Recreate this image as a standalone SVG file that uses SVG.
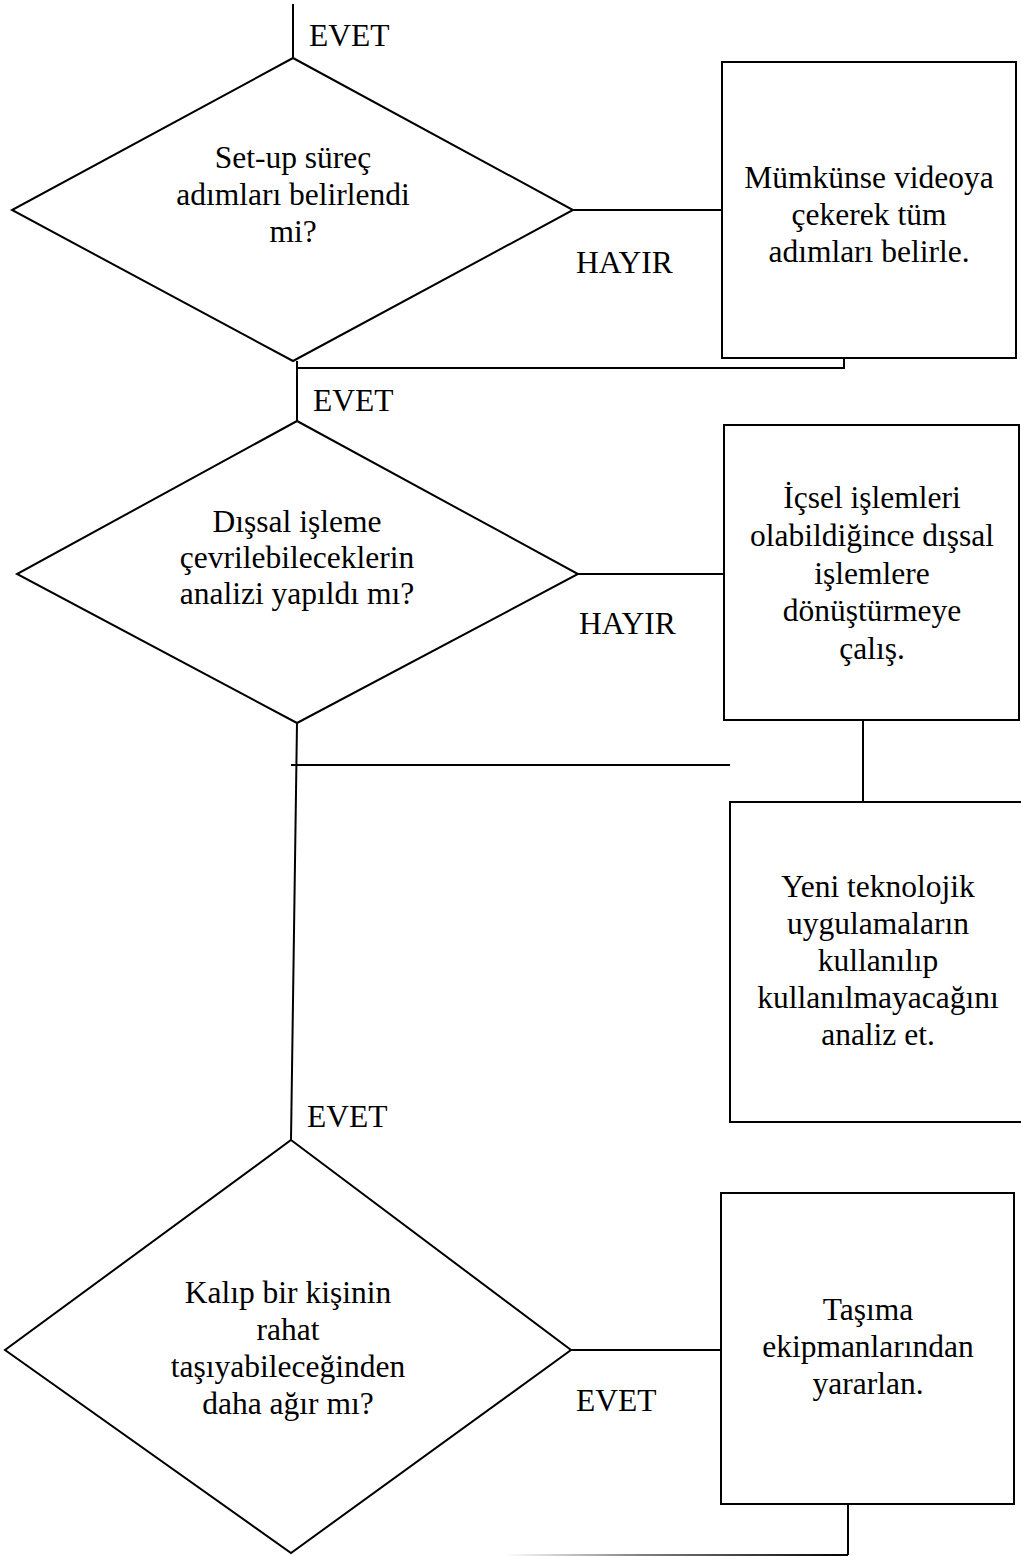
<svg xmlns="http://www.w3.org/2000/svg" width="1021" height="1556" viewBox="0 0 1021 1556">
<style>
.s{fill:none;stroke:#000;stroke-width:2}
.b{fill:#fff;stroke:#000;stroke-width:2}
text{font-family:"Liberation Serif","Times New Roman",serif;font-size:31.5px;fill:#000}
.c{text-anchor:middle}
</style>
<defs>
<linearGradient id="fade" gradientUnits="userSpaceOnUse" x1="505" y1="0" x2="848" y2="0">
<stop offset="0" stop-color="#000" stop-opacity="0"/>
<stop offset="0.4" stop-color="#000" stop-opacity="0.5"/>
<stop offset="1" stop-color="#000" stop-opacity="1"/>
</linearGradient>
</defs>
<rect width="1021" height="1556" fill="#fff"/>
<g id="connectors">
<line class="s" x1="293" y1="4" x2="293" y2="58"/>
<line class="s" x1="573" y1="210" x2="722" y2="210"/>
<polyline class="s" points="844,358 844,368 296,368"/>
<line class="s" x1="297" y1="361" x2="297" y2="421"/>
<line class="s" x1="578" y1="574" x2="724" y2="574"/>
<line class="s" x1="863" y1="720" x2="863" y2="802"/>
<line class="s" x1="291" y1="765" x2="730" y2="765"/>
<line class="s" x1="297" y1="723" x2="291" y2="1140"/>
<line class="s" x1="571" y1="1350" x2="721" y2="1350"/>
<line class="s" x1="848" y1="1504" x2="848" y2="1555"/>
<line x1="505" y1="1555" x2="848" y2="1555" stroke="url(#fade)" stroke-width="2"/>
</g>
<g id="label-evet1"><text x="309" y="46">EVET</text></g>
<g id="label-hayir1"><text x="576" y="273">HAYIR</text></g>
<g id="label-evet2"><text x="313" y="411">EVET</text></g>
<g id="label-hayir2"><text x="579" y="634">HAYIR</text></g>
<g id="label-evet3"><text x="307" y="1127">EVET</text></g>
<g id="label-evet4"><text x="576" y="1411">EVET</text></g>
<g id="decision1">
<polygon class="b" points="293,58 573,210 293,361 12,210"/>
<text class="c" x="293" y="168">Set-up süreç</text>
<text class="c" x="293" y="205">adımları belirlendi</text>
<text class="c" x="293" y="242">mi?</text>
</g>
<g id="box1">
<rect class="b" x="722" y="62" width="294" height="296"/>
<text class="c" x="869" y="188">Mümkünse videoya</text>
<text class="c" x="869" y="225">çekerek tüm</text>
<text class="c" x="869" y="262">adımları belirle.</text>
</g>
<g id="decision2">
<polygon class="b" points="297,421 578,574 297,723 17,574"/>
<text class="c" x="297" y="532">Dışsal işleme</text>
<text class="c" x="297" y="568">çevrilebileceklerin</text>
<text class="c" x="297" y="604">analizi yapıldı mı?</text>
</g>
<g id="box2">
<rect class="b" x="724" y="425" width="295" height="295"/>
<text class="c" x="872" y="508">İçsel işlemleri</text>
<text class="c" x="872" y="546">olabildiğince dışsal</text>
<text class="c" x="872" y="584">işlemlere</text>
<text class="c" x="872" y="621">dönüştürmeye</text>
<text class="c" x="872" y="659">çalış.</text>
</g>
<g id="box3">
<path class="b" d="M1022,802 H730 V1122 H1022"/>
<text class="c" x="878" y="897">Yeni teknolojik</text>
<text class="c" x="878" y="934">uygulamaların</text>
<text class="c" x="878" y="971">kullanılıp</text>
<text class="c" x="878" y="1008">kullanılmayacağını</text>
<text class="c" x="878" y="1045">analiz et.</text>
</g>
<g id="decision3">
<polygon class="b" points="291,1140 571,1350 291,1553 5,1350"/>
<text class="c" x="288" y="1303">Kalıp bir kişinin</text>
<text class="c" x="288" y="1340">rahat</text>
<text class="c" x="288" y="1377">taşıyabileceğinden</text>
<text class="c" x="288" y="1414">daha ağır mı?</text>
</g>
<g id="box4">
<rect class="b" x="721" y="1193" width="293" height="311"/>
<text class="c" x="868" y="1320">Taşıma</text>
<text class="c" x="868" y="1357">ekipmanlarından</text>
<text class="c" x="868" y="1394">yararlan.</text>
</g>
</svg>
